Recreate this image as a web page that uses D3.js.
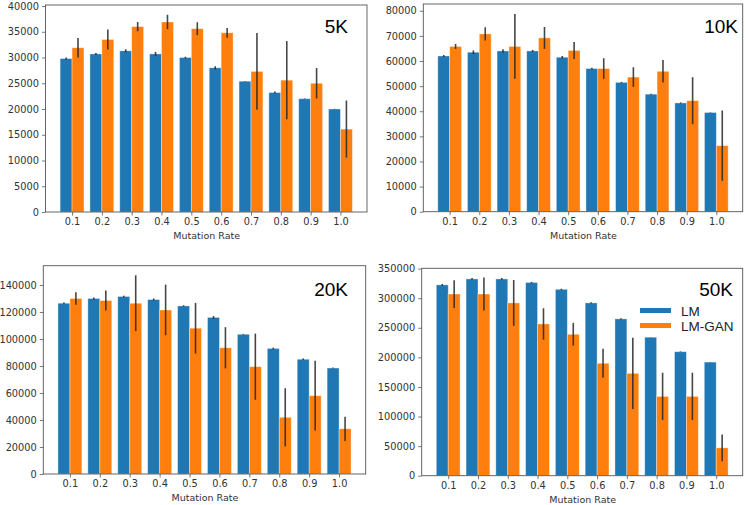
<!DOCTYPE html>
<html>
<head>
<meta charset="utf-8">
<script src="https://cdn.jsdelivr.net/npm/d3@7"></script>
<style>
  html, body { margin: 0; padding: 0; background: #fff; }
  svg { display: block; }
</style>
</head>
<body>
<svg id="chart" width="747" height="505"></svg>
<script>
// ---------------- DATA ----------------
const categories = ["0.1","0.2","0.3","0.4","0.5","0.6","0.7","0.8","0.9","1.0"];
const seriesNames = ["LM", "LM-GAN"];
const panelTitles = ["5K", "10K", "20K", "50K"];
const xLabel = "Mutation Rate";

const lm5      = [29800, 30700, 31300, 30700, 30000, 28000, 25400, 23200, 22000, 20000];
const lm5Err   = [200, 200, 300, 400, 150, 300, 50, 200, 50, 50];
const gan5     = [31900, 33500, 36000, 36900, 35600, 34800, 27300, 25600, 25000, 16100];
const gan5Err  = [1900, 1950, 900, 1400, 1250, 950, 7450, 7600, 2950, 5550];
const ticks5   = [0, 5000, 10000, 15000, 20000, 25000, 30000, 35000, 40000];

const lm10     = [62000, 63500, 64000, 64000, 61500, 57000, 51500, 46800, 43300, 39500];
const lm10Err  = [400, 700, 700, 400, 500, 300, 200, 200, 200, 100];
const gan10    = [65800, 70800, 65800, 69200, 64200, 57000, 53600, 55900, 44200, 26300];
const gan10Err = [1000, 2650, 12900, 4350, 3350, 4100, 3900, 4500, 9350, 14000];
const ticks10  = [0, 10000, 20000, 30000, 40000, 50000, 60000, 70000, 80000];

const lm20     = [126500, 130000, 131500, 129200, 124500, 116000, 103500, 93000, 85000, 78500];
const lm20Err  = [500, 800, 600, 800, 500, 1000, 300, 600, 500, 300];
const gan20    = [130000, 128500, 126500, 121500, 108000, 93500, 79500, 42000, 58000, 33500];
const gan20Err = [4700, 7400, 20700, 18750, 18750, 15250, 24500, 21500, 25850, 9000];
const ticks20  = [0, 20000, 40000, 60000, 80000, 100000, 120000, 140000];

const lm50     = [322500, 332500, 332500, 326500, 315000, 292000, 265000, 234000, 209500, 192000];
const lm50Err  = [1500, 1500, 1500, 1000, 1000, 1000, 1000, 300, 500, 300];
const gan50    = [307000, 307000, 292000, 256500, 239000, 190000, 173000, 134000, 134000, 47000];
const gan50Err = [23500, 28000, 38750, 26500, 19250, 24500, 60250, 40000, 40000, 22500];
const ticks50  = [0, 50000, 100000, 150000, 200000, 250000, 300000, 350000];

// ---------------- LAYOUT ----------------
const colors = ["#1f77b4", "#ff7f0e"];
const panels = [
  { title: panelTitles[0], lm: lm5,  lmErr: lm5Err,  gan: gan5,  ganErr: gan5Err,  ticks: ticks5,  yMax: 40200,
    left: 45.5, right: 367, top: 5, bottom: 212, titleX: 348, titleY: 33 },
  { title: panelTitles[1], lm: lm10, lmErr: lm10Err, gan: gan10, ganErr: gan10Err, ticks: ticks10, yMax: 82700,
    left: 423.3, right: 742.7, top: 4, bottom: 211.7, titleX: 738, titleY: 33 },
  { title: panelTitles[2], lm: lm20, lmErr: lm20Err, gan: gan20, ganErr: gan20Err, ticks: ticks20, yMax: 154300,
    left: 43.3, right: 365.7, top: 265.7, bottom: 474, titleX: 348, titleY: 295.5 },
  { title: panelTitles[3], lm: lm50, lmErr: lm50Err, gan: gan50, ganErr: gan50Err, ticks: ticks50, yMax: 350500,
    left: 421.7, right: 742.7, top: 268.3, bottom: 475.7, titleX: 733, titleY: 295.5, legend: true }
];

const svg = d3.select("#chart");
const tickFont = "DejaVu Sans, sans-serif";
const spineColor = "#555";
const barW = 0.4;

panels.forEach(p => {
  const x = d3.scaleLinear().domain([-0.89, 9.89]).range([p.left, p.right]);
  const y = d3.scaleLinear().domain([0, p.yMax]).range([p.bottom, p.top]);
  const g = svg.append("g");

  const series = [
    { vals: p.lm,  errs: p.lmErr,  off: -barW / 2, color: colors[0] },
    { vals: p.gan, errs: p.ganErr, off:  barW / 2, color: colors[1] }
  ];

  // bars
  series.forEach(s => {
    g.selectAll(null).data(s.vals).enter().append("rect")
      .attr("x", (d, i) => x(i + s.off - barW / 2))
      .attr("width", x(barW) - x(0))
      .attr("y", d => y(d))
      .attr("height", d => y(0) - y(d))
      .attr("fill", s.color)
      .attr("stroke", "rgba(255,255,255,0.45)")
      .attr("stroke-width", 0.8);
  });
  // error bars
  series.forEach(s => {
    g.selectAll(null).data(s.vals).enter().append("line")
      .attr("x1", (d, i) => x(i + s.off))
      .attr("x2", (d, i) => x(i + s.off))
      .attr("y1", (d, i) => y(d - s.errs[i]))
      .attr("y2", (d, i) => y(d + s.errs[i]))
      .attr("stroke", "#262626")
      .attr("stroke-opacity", 0.85)
      .attr("stroke-width", 1.6);
  });

  // axes
  const xAxis = d3.axisBottom(x)
    .tickValues(d3.range(categories.length))
    .tickFormat(i => categories[i])
    .tickSize(3.5).tickPadding(3);
  const yAxis = d3.axisLeft(y)
    .tickValues(p.ticks)
    .tickFormat(d3.format("d"))
    .tickSize(3.5).tickPadding(3);

  const gx = g.append("g").attr("transform", `translate(0,${p.bottom})`).call(xAxis);
  const gy = g.append("g").attr("transform", `translate(${p.left},0)`).call(yAxis);
  [gx, gy].forEach(a => {
    a.select(".domain").remove();
    a.selectAll(".tick line").attr("stroke", spineColor).attr("stroke-width", 0.8);
    a.selectAll(".tick text").attr("fill", "#333").style("font-family", tickFont).style("font-size", "9.8px");
  });

  // spines box
  g.append("rect")
    .attr("x", p.left).attr("y", p.top)
    .attr("width", p.right - p.left).attr("height", p.bottom - p.top)
    .attr("fill", "none").attr("stroke", spineColor).attr("stroke-width", 0.9);

  // x label
  g.append("text")
    .attr("x", (p.left + p.right) / 2 + 0.5)
    .attr("y", p.bottom + 27)
    .attr("text-anchor", "middle")
    .attr("fill", "#333")
    .style("font-family", tickFont).style("font-size", "9.5px")
    .text(xLabel);

  // panel title
  g.append("text")
    .attr("x", p.titleX).attr("y", p.titleY)
    .attr("text-anchor", "end")
    .attr("fill", "#000")
    .style("font-family", "Liberation Sans, Arial, sans-serif").style("font-size", "19px")
    .text(p.title);

  // legend
  if (p.legend) {
    const lg = g.append("g");
    seriesNames.forEach((name, k) => {
      const cy = 310.5 + k * 15;
      lg.append("rect").attr("x", 640).attr("y", cy - 2.5).attr("width", 31).attr("height", 5).attr("fill", colors[k]);
      lg.append("text").attr("x", 681).attr("y", cy + 5)
        .attr("fill", "#222")
        .style("font-family", "Liberation Sans, Arial, sans-serif").style("font-size", "13.5px")
        .text(name);
    });
  }
});
</script>
</body>
</html>
